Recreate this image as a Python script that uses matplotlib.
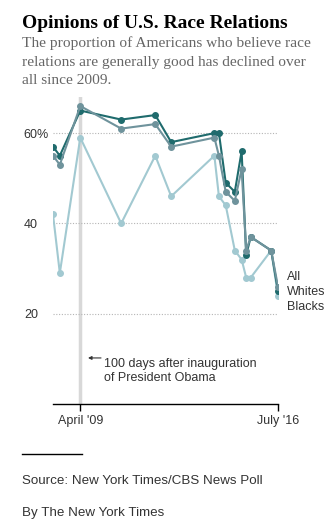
import numpy as np
import pandas as pd
import matplotlib
matplotlib.use('Agg')
import matplotlib.pyplot as plt
from matplotlib.lines import Line2D

# poll dates and share saying race relations are generally good
months = ['2008-04', '2008-07', '2009-04', '2010-10', '2012-01', '2012-08',
          '2014-03', '2014-05', '2014-08', '2014-12', '2015-03', '2015-05',
          '2015-07', '2016-04', '2016-07']
all_adults = [57, 55, 65, 63, 64, 58, 60, 60, 49, 47, 56, 33, 37, 34, 25]
whites = [55, 53, 66, 61, 62, 57, 59, 55, 47, 45, 52, 34, 37, 34, 26]
blacks = [42, 29, 59, 40, 55, 46, 55, 46, 44, 34, 32, 28, 28, 34, 24]

y_ticks = [20, 40, 60]
y_labels = ['20', '40', '60%']
x_ticks = ['2009-04', '2016-07']
x_labels = ["April '09", "July '16"]

def to_year(m):
    d = pd.to_datetime(m)
    return d.year + (d.month - 1) / 12.0

x = np.array([to_year(m) for m in months])

W, H = 334, 529
fig = plt.figure(figsize=(W / 100, H / 100), dpi=100)

def fx(px):
    return px / W

def fy(py):
    return 1 - py / H

ax = fig.add_axes([fx(53), fy(404), fx(278) - fx(53), fy(97) - fy(404)])
ax.set_xlim(x[0], x[-1])
ax.set_ylim(0, 68)

c_all = '#1f6b6d'
c_wh = '#6f939c'
c_bl = '#a2c9d1'

ax.axvline(to_year('2009-04'), color='#d8d8d8', lw=2.5, zorder=0)
for yv in y_ticks:
    ax.axhline(yv, color='#b5b5b5', lw=0.8, ls=(0, (1, 1.5)), zorder=0)

ax.plot(x, blacks, color=c_bl, lw=1.5, marker='o', ms=4, zorder=2)
ax.plot(x, all_adults, color=c_all, lw=1.5, marker='o', ms=4, zorder=3)
ax.plot(x, whites, color=c_wh, lw=1.5, marker='o', ms=4, zorder=4)

for s in ['top', 'right', 'left']:
    ax.spines[s].set_visible(False)
ax.spines['bottom'].set_color('black')
ax.spines['bottom'].set_linewidth(1.0)

ax.set_yticks(y_ticks)
ax.set_yticklabels(y_labels)
ax.tick_params(axis='y', length=0, pad=21, labelsize=9, labelcolor='#333333')
for lab in ax.get_yticklabels():
    lab.set_horizontalalignment('left')
    lab.set_family('Liberation Sans')

ax.set_xticks([to_year(m) for m in x_ticks])
ax.set_xticklabels(x_labels)
ax.tick_params(axis='x', length=5, width=1, color='black', pad=3,
               labelsize=9, labelcolor='#333333')
for lab in ax.get_xticklabels():
    lab.set_family('Liberation Sans')

# series labels at the right end
xl = x[-1] + 8.5 / 27.27
for txt, yv in [('All', 28.1), ('Whites', 24.8), ('Blacks', 21.5)]:
    ax.text(xl, yv, txt, fontsize=9, color='#333333', family='Liberation Sans',
            va='center', ha='left', clip_on=False)

# note on the April 2009 line
x0 = x[0]
ax.annotate('', xy=(x0 + 35 / 27.27, 10.2), xytext=(x0 + 48 / 27.27, 10.2),
            arrowprops=dict(arrowstyle='-|>', color='#333333', lw=0.8,
                            mutation_scale=5, shrinkA=0, shrinkB=0))
ax.text(x0 + 51 / 27.27, 10.2, '100 days after inauguration\nof President Obama',
        fontsize=9, color='#333333', family='Liberation Sans', va='top',
        ha='left', linespacing=1.25, transform=ax.transData)

fig.text(fx(22), fy(28), 'Opinions of U.S. Race Relations', fontsize=14,
         fontweight='bold', family='Liberation Serif', color='black',
         va='baseline')
sub_lines = ['The proportion of Americans who believe race',
             'relations are generally good has declined over',
             'all since 2009.']
for i, line in enumerate(sub_lines):
    fig.text(fx(22), fy(47.5 + 18.5 * i), line, fontsize=11.1,
             family='Liberation Serif', color='#666666', va='baseline')

fig.add_artist(Line2D([fx(22), fx(82)], [fy(454), fy(454)], color='black', lw=1))
fig.text(fx(22), fy(481), 'Source: New York Times/CBS News Poll', fontsize=9.6,
         family='Liberation Sans', color='#333333', va='center')
fig.text(fx(22), fy(513), 'By The New York Times', fontsize=9.6,
         family='Liberation Sans', color='#333333', va='center')

fig.savefig('out.png', dpi=100)
